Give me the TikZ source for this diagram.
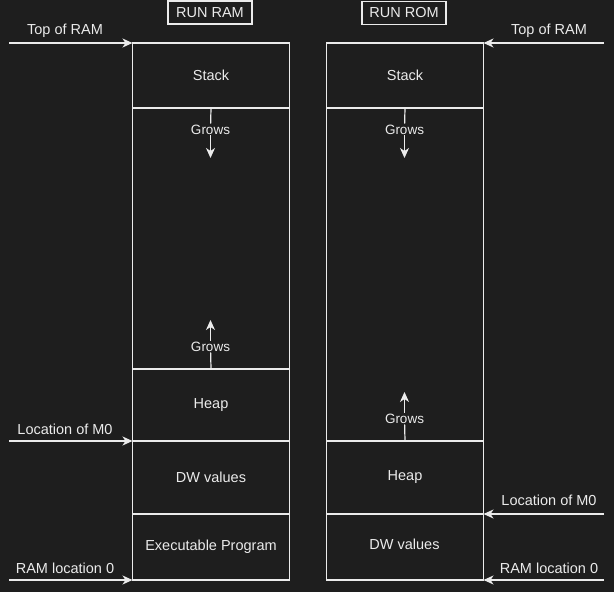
\documentclass[tikz,border=0pt]{standalone}
\usepackage{fontspec}
\setmainfont{Liberation Sans}
\usetikzlibrary{arrows.meta}
\definecolor{bg}{RGB}{30,30,30}
\definecolor{fg}{RGB}{235,235,235}
\tikzset{
  cell/.style={draw=fg, line width=1.2pt, anchor=north west, minimum width=157pt, inner sep=0pt, outer sep=0pt, text=fg, font=\fontsize{14.5}{16}\selectfont},
  titlebox/.style={draw=fg, line width=1.2pt, minimum width=84pt, minimum height=23pt, inner sep=0pt, text=fg, font=\fontsize{14.5}{16}\selectfont},
  lbl/.style={text=fg, inner sep=0pt, font=\fontsize{14.5}{16}\selectfont},
  growlbl/.style={text=fg, fill=bg, inner sep=1pt, font=\fontsize{13.5}{15}\selectfont},
  arr/.style={draw=fg, line width=1.2pt, -{Stealth[length=10pt,width=9pt,inset=3pt]}},
  plain/.style={draw=fg, line width=1.2pt},
}
\begin{document}
\begin{tikzpicture}[x=1pt,y=-1pt]
\fill[bg] (0,0) rectangle (614,592);
\useasboundingbox (0,0) rectangle (614,592);
% titles
\node[titlebox] (tram) at (210,12.5) {RUN RAM};
\node[titlebox] (trom) at (404,13) {RUN ROM};
% left column
\node[cell, minimum height=65pt]  (lstack) at (132.5,43) {Stack};
\node[cell, minimum height=261pt] (lfree)  at (132.5,108) {};
\node[cell, minimum height=72pt]  (lheap)  at (132.5,369) {Heap};
\node[cell, minimum height=73pt]  (ldw)    at (132.5,441) {DW values};
\node[cell, minimum height=66pt]  (lexec)  at (132.5,514) {Executable Program};
% right column
\node[cell, minimum height=65pt]  (rstack) at (326.5,43) {Stack};
\node[cell, minimum height=333pt] (rfree)  at (326.5,108) {};
\node[cell, minimum height=73pt]  (rheap)  at (326.5,441) {Heap};
\node[cell, minimum height=66pt]  (rdw)    at (326.5,514) {};
\node[lbl] (rdwtxt) at (404.5,544.5) {DW values};
% left pointers
\coordinate (ltopsrc) at (9,43);
\coordinate (lm0src) at (9,441);
\coordinate (l0src) at (9,580);
\draw[arr] (ltopsrc) -- (lstack.north west);
\draw[arr] (lm0src) -- (ldw.north west);
\draw[arr] (l0src) -- (lexec.south west);
\node[lbl] (ltoplbl) at (65,30.5) {Top of RAM};
\node[lbl] (lm0lbl) at (65,429.5) {Location of M0};
\node[lbl] (l0lbl) at (65,568.5) {RAM location 0};
% right pointers
\coordinate (rtopsrc) at (604,43);
\coordinate (rm0src) at (604,514);
\coordinate (r0src) at (604,580);
\draw[arr] (rtopsrc) -- (rstack.north east);
\draw[arr] (rm0src) -- (rdw.north east);
\draw[arr] (r0src) -- (rdw.south east);
\node[lbl] (rtoplbl) at (549,30.5) {Top of RAM};
\node[lbl] (rm0lbl) at (549,500.5) {Location of M0};
\node[lbl] (r0lbl) at (549,568.5) {RAM location 0};
% grows arrows
\node[growlbl] (lg1) at (210.5,129.5) {Grows};
\coordinate (lg1end) at (210.5,158);
\draw[plain] (lstack.south) -- (lg1);
\draw[arr] (lg1) -- (lg1end);
\node[growlbl] (lg2) at (210.5,346.5) {Grows};
\coordinate (lg2end) at (210.5,320);
\draw[plain] (lheap.north) -- (lg2);
\draw[arr] (lg2) -- (lg2end);
\node[growlbl] (rg1) at (404.5,129.5) {Grows};
\coordinate (rg1end) at (404.5,158);
\draw[plain] (rstack.south) -- (rg1);
\draw[arr] (rg1) -- (rg1end);
\node[growlbl] (rg2) at (404.5,418.5) {Grows};
\coordinate (rg2end) at (404.5,392);
\draw[plain] (rheap.north) -- (rg2);
\draw[arr] (rg2) -- (rg2end);
\end{tikzpicture}
\end{document}
